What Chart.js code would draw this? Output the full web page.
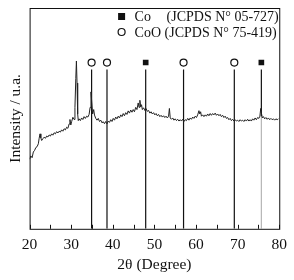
<!DOCTYPE html>
<html>
<head>
<meta charset="utf-8">
<script src="https://cdn.jsdelivr.net/npm/chart.js@4.4.0/dist/chart.umd.min.js"></script>
<style>
  html, body { margin: 0; padding: 0; background: #fff; }
  #wrap { width: 294px; height: 280px; position: relative; }
</style>
</head>
<body>
<div id="wrap"><canvas id="xrd"></canvas></div>
<script>
// XRD pattern (2theta in degrees, intensity in arbitrary units 0-100)
const twoTheta = [
  20.0, 20.3, 20.6, 20.9, 21.2, 21.5, 21.8, 22.1, 22.3, 22.5, 22.7, 22.9, 23.2, 23.5, 23.8, 24.1, 24.4, 24.7,
  25.0, 25.3, 25.6, 25.9, 26.2, 26.5, 26.8, 27.1, 27.4, 27.7, 28.0, 28.3, 28.6, 28.9, 29.2, 29.5, 29.7, 29.9,
  30.1, 30.4, 30.7, 30.9, 31.1, 31.25, 31.4, 31.55, 31.7, 31.9, 32.2, 32.5, 32.8, 33.1, 33.4, 33.7, 34.0, 34.3,
  34.55, 34.75, 34.95, 35.15, 35.4, 35.6, 35.9, 36.2, 36.5, 36.8, 37.1, 37.4, 37.7, 38.0, 38.3, 38.6, 38.9,
  39.2, 39.5, 39.8, 40.1, 40.4, 40.7, 41.0, 41.3, 41.6, 41.9, 42.2, 42.5, 42.8, 43.1, 43.4, 43.7, 44.0, 44.3,
  44.6, 44.9, 45.2, 45.5, 45.8, 46.1, 46.3, 46.5, 46.7, 46.9, 47.1, 47.4, 47.7, 48.0, 48.3, 48.6, 48.9, 49.2,
  49.5, 49.8, 50.1, 50.4, 50.7, 51.0, 51.3, 51.6, 51.9, 52.2, 52.5, 52.8, 53.1, 53.4, 53.6, 53.8, 54.1, 54.4,
  54.7, 55.0, 55.3, 55.6, 55.9, 56.2, 56.5, 56.8, 57.1, 57.4, 57.7, 58.0, 58.3, 58.6, 58.9, 59.2, 59.5, 59.8,
  60.1, 60.4, 60.7, 60.9, 61.1, 61.3, 61.6, 61.9, 62.2, 62.5, 62.8, 63.1, 63.4, 63.7, 64.0, 64.3, 64.6, 64.9,
  65.2, 65.5, 65.8, 66.1, 66.4, 66.7, 67.0, 67.3, 67.6, 67.9, 68.2, 68.5, 68.8, 69.1, 69.4, 69.7, 70.0, 70.3,
  70.6, 70.9, 71.2, 71.5, 71.8, 72.1, 72.4, 72.7, 73.0, 73.3, 73.6, 73.9, 74.2, 74.5, 74.8, 75.1, 75.35, 75.55,
  75.75, 75.95, 76.2, 76.5, 76.8, 77.1, 77.4, 77.7, 78.0, 78.3, 78.6, 78.9, 79.2, 79.5, 79.8
];
const intensity = [
  31.5, 33.0, 32.2, 34.8, 35.5, 36.8, 37.2, 38.5, 41.0, 43.0, 41.2, 40.0, 40.8, 41.5, 41.0, 42.0, 41.6, 42.5,
  42.0, 43.0, 42.4, 43.5, 43.0, 44.0, 43.4, 44.2, 43.8, 44.8, 44.2, 45.3, 44.8, 46.0, 45.5, 47.5, 49.5, 47.0,
  48.5, 50.5, 49.5, 55.0, 68.0, 76.0, 66.0, 52.0, 49.0, 49.8, 49.0, 50.2, 49.5, 50.8, 50.0, 51.0, 50.6, 51.8,
  55.0, 62.0, 57.0, 52.0, 54.0, 51.5, 50.0, 49.2, 50.0, 48.6, 49.2, 48.0, 48.5, 47.6, 48.6, 47.5, 48.8,
  48.2, 49.4, 48.6, 50.0, 49.2, 50.6, 49.8, 51.0, 50.2, 51.6, 50.8, 52.2, 51.2, 52.6, 51.8, 53.4, 52.4, 53.8,
  52.8, 54.0, 53.0, 55.0, 54.0, 57.0, 55.0, 58.2, 55.2, 56.2, 54.0, 54.8, 53.6, 54.4, 53.2, 53.6, 52.4, 53.0,
  52.0, 52.6, 51.6, 52.2, 51.2, 51.8, 50.8, 51.4, 50.6, 51.2, 50.4, 51.0, 50.2, 51.0, 54.5, 50.2, 49.6, 50.2,
  49.2, 49.8, 49.0, 49.6, 48.8, 49.4, 48.8, 49.6, 48.6, 49.4, 49.0, 50.0, 49.2, 50.2, 49.6, 50.6, 50.0, 51.0,
  50.4, 51.6, 53.5, 52.0, 53.0, 51.0, 51.6, 50.8, 51.6, 51.0, 52.0, 51.2, 52.2, 51.4, 52.2, 51.6, 52.4, 51.4,
  52.0, 51.2, 51.8, 50.8, 51.4, 50.4, 51.0, 50.0, 50.4, 49.4, 50.0, 49.0, 49.6, 48.8, 49.4, 48.8, 49.2, 48.6,
  49.4, 48.8, 49.2, 48.6, 49.4, 48.8, 49.6, 48.8, 49.4, 48.8, 49.8, 49.2, 50.2, 49.4, 50.4, 50.0, 51.0, 54.5,
  52.0, 50.2, 50.8, 49.8, 50.4, 49.6, 50.2, 49.4, 50.0, 49.4, 49.8, 49.2, 49.8, 49.4, 49.8
];

// reference peak positions
const coPeaks = [47.9, 75.7];
const cooPeaks = [34.9, 38.6, 57.0, 69.2];
const stickTop = 72.2;
const markerLevel = 75.3;
const xTicks = [20, 30, 40, 50, 60, 70, 80];

const serif = "'Liberation Serif', 'Times New Roman', serif";

function stick(x, y0, y1, color) {
    return {
        type: 'line',
        data: [{ x: x, y: y0 }, { x: x, y: y1 }],
        borderColor: color,
        borderWidth: 1.2,
        pointRadius: 0,
        order: 2
    };
}

const datasets = [];

datasets.push({
    type: 'line',
    data: twoTheta.map((t, i) => ({ x: t, y: intensity[i] })),
    borderColor: '#222',
    borderWidth: 1,
    pointRadius: 0,
    tension: 0,
    order: 1
});

cooPeaks.forEach(p => datasets.push(stick(p, 0, stickTop, '#111')));
// last Co line is grey below the pattern
datasets.push(stick(coPeaks[0], 0, stickTop, '#111'));
datasets.push(stick(coPeaks[1], 51, stickTop, '#111'));
datasets.push(stick(coPeaks[1], 0, 51, '#b5b5b5'));

datasets.push({
    type: 'scatter',
    data: cooPeaks.map(p => ({ x: p, y: markerLevel })),
    pointStyle: 'circle',
    pointRadius: 3.5,
    pointBorderWidth: 1.2,
    pointBorderColor: '#111',
    pointBackgroundColor: '#fff',
    order: 0
});
datasets.push({
    type: 'scatter',
    data: coPeaks.map(p => ({ x: p, y: markerLevel })),
    pointStyle: 'rect',
    pointRadius: 4,
    pointBorderWidth: 0,
    pointBackgroundColor: '#111',
    order: 0
});

// frame, inward ticks and the legend box
const framePlugin = {
    id: 'frame',
    afterDraw(chart) {
        const { ctx, chartArea: a, scales } = chart;
        ctx.save();
        ctx.strokeStyle = '#111';
        ctx.lineWidth = 1;
        ctx.strokeRect(a.left + 0.5, a.top + 0.5, a.right - a.left, a.bottom - a.top);
        for (let v = 20; v <= 80; v += 5) {
            const px = Math.round(scales.x.getPixelForValue(v)) + 0.5;
            ctx.beginPath();
            ctx.moveTo(px, a.bottom);
            ctx.lineTo(px, a.bottom - 4);
            ctx.stroke();
        }

        const lx = a.left + 92;
        ctx.fillStyle = '#111';
        ctx.fillRect(lx - 3.5, a.top + 5, 7, 7);
        ctx.beginPath();
        ctx.lineWidth = 1.2;
        ctx.arc(lx, a.top + 24, 3.5, 0, Math.PI * 2);
        ctx.stroke();

        ctx.font = '14px ' + serif;
        ctx.textBaseline = 'alphabetic';
        ctx.fillText('Co', lx + 13, a.top + 13);
        ctx.fillText('(JCPDS N° 05-727)', lx + 45, a.top + 13);
        ctx.fillText('CoO (JCPDS N° 75-419)', lx + 13, a.top + 29);
        ctx.restore();
    }
};

new Chart(document.getElementById('xrd'), {
    data: { datasets: datasets },
    options: {
        responsive: true,
        maintainAspectRatio: false,
        animation: false,
        layout: { padding: { left: 3, right: 12, top: 8, bottom: 2 } },
        plugins: {
            legend: { display: false },
            tooltip: { enabled: false }
        },
        scales: {
            x: {
                type: 'linear',
                min: 20,
                max: 80,
                afterBuildTicks: axis => { axis.ticks = xTicks.map(v => ({ value: v })); },
                grid: { display: false, drawTicks: false },
                border: { display: false },
                ticks: { color: '#111', padding: 7, font: { family: serif, size: 15.5 }, maxRotation: 0 },
                title: {
                    display: true, text: '2θ (Degree)', color: '#111',
                    padding: { top: -6, bottom: 4 },
                    font: { family: serif, size: 15.5 }
                }
            },
            y: {
                min: 0,
                max: 100,
                grid: { display: false, drawTicks: false },
                border: { display: false },
                ticks: { display: false },
                title: { display: true, text: 'Intensity / u.a.', color: '#111', font: { family: serif, size: 15.5 } }
            }
        }
    },
    plugins: [framePlugin]
});
</script>
</body>
</html>
